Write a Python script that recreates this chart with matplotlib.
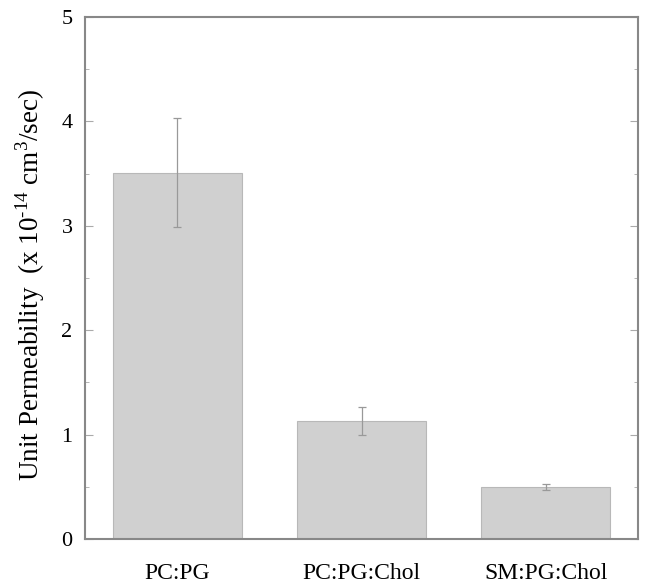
import numpy as np
import matplotlib.pyplot as plt
from matplotlib.ticker import MultipleLocator

# datos
categories = ["PC:PG", "PC:PG:Chol", "SM:PG:Chol"]
values = [3.51, 1.13, 0.50]
errors = [0.52, 0.13, 0.03]

plt.rcParams["font.family"] = ["Liberation Serif", "DejaVu Serif"]
plt.rcParams["mathtext.fontset"] = "custom"
plt.rcParams["mathtext.rm"] = "Liberation Serif"

fig = plt.figure(figsize=(6.51, 5.86), dpi=100)
ax = fig.add_axes([0.1306, 0.0802, 0.8494, 0.8908])

x = np.arange(len(categories))
ax.bar(x, values, width=0.7, color="#d0d0d0", edgecolor="#b8b8b8", linewidth=0.8)
ax.errorbar(x, values, yerr=errors, fmt="none", ecolor="#999999",
            elinewidth=0.9, capsize=3, capthick=0.9)

ax.set_xlim(-0.5, 2.5)
ax.set_ylim(0, 5)
ax.set_xticks(x)
ax.set_xticklabels(categories, fontsize=17)
ax.yaxis.set_major_locator(MultipleLocator(1))
ax.yaxis.set_minor_locator(MultipleLocator(0.5))
ax.tick_params(axis="y", which="both", direction="in", right=True, color="#aaaaaa",
               labelsize=16, pad=9)
ax.tick_params(axis="y", which="major", length=6)
ax.tick_params(axis="y", which="minor", length=3)
ax.tick_params(axis="x", length=0, pad=17)
for s in ax.spines.values():
    s.set_color("#888888")
    s.set_linewidth(1.5)

ax.set_ylabel(r"Unit Permeability  (x 10$^{\mathrm{\text{-}14}}$ cm$^{3}$/sec)",
              fontsize=19.5)
ax.yaxis.set_label_coords(-0.068, 0.487)

plt.savefig("out.png", dpi=100)
